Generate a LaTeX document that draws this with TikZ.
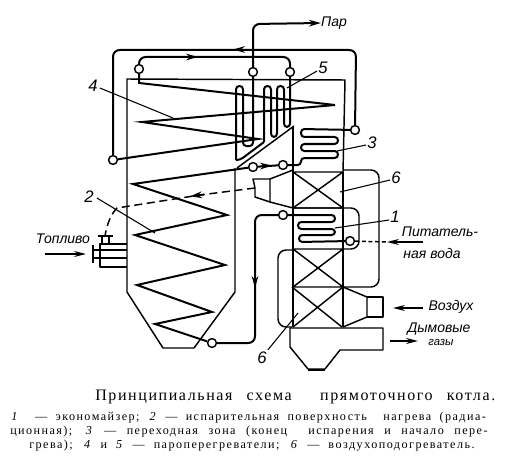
\documentclass[tikz,border=0pt]{standalone}
\usepackage{fontspec}
\setmainfont{Liberation Serif}
\newfontfamily\lblfont{Liberation Sans}[ItalicFont={Liberation Sans Italic}]
\newfontfamily\capwide{Liberation Serif}[LetterSpace=12]
\newfontfamily\titlewide{Liberation Serif}[LetterSpace=10]
\usetikzlibrary{arrows.meta}
\tikzset{
  wall/.style={line width=1.1pt,line join=round},
  thin wall/.style={line width=0.9pt,line join=round},
  tube/.style={line width=1.5pt,line join=round,rounded corners=2.5pt},
  sharp tube/.style={line width=1.5pt,line join=miter},
  pipe/.style={line width=1.5pt,rounded corners=5pt},
  duct/.style={line width=1.1pt,rounded corners=6pt},
  leader/.style={line width=0.8pt},
  tipped/.style={-{Stealth[length=9pt,width=4.5pt,inset=3pt]},line width=1pt},
  midtip/.style={-{Stealth[length=9pt,width=5pt,inset=3pt]},line width=1.3pt,shorten <=0pt},
  dashline/.style={line width=1.1pt,dash pattern=on 6pt off 3.5pt},
  feedline/.style={line width=1.1pt,dash pattern=on 3pt off 2pt},
  ring/.style={circle,draw,line width=1.1pt,fill=white,minimum size=6.6pt,inner sep=0pt},
  lab/.style={font=\lblfont\itshape\fontsize{10.5}{11}\selectfont,inner sep=0pt},
  num/.style={font=\lblfont\itshape\fontsize{12.5}{12.5}\selectfont,inner sep=0pt},
  small/.style={font=\lblfont\itshape\fontsize{8.5}{9}\selectfont,inner sep=0pt},
  captitle/.style={font=\titlewide\fontsize{12}{13}\selectfont,inner sep=0pt,anchor=west},
  capline/.style={font=\capwide\fontsize{9.1}{10}\selectfont,inner sep=0pt,anchor=west}
}
\begin{document}
\begin{tikzpicture}[x=0.75pt,y=-0.75pt]
\useasboundingbox (0,0) rectangle (506,456);

% --- furnace casing
\draw[wall] (235,168) -- (235,292) -- (194,348) -- (163,348) -- (127,292) -- (127,79) -- (345,80) -- (343,172);
\draw[wall] (293,127) -- (293,327);
\draw[wall] (343,172) -- (343,327);
% baffle
\draw[wall] (237,168) -- (294,126);
\draw[tube] (264,142) -- (240,160) -- (236,160);

% --- air heaters
\draw[wall] (293,172) -- (343,172) (293,172) -- (343,208) (343,172) -- (293,208) (293,208) -- (343,208);
\draw[wall] (293,249) -- (343,249) (293,249) -- (343,287) (343,249) -- (293,287) (292,287) -- (343,287);
\draw[wall] (292,287) -- (342,327) (343,287) -- (293,327);

% --- upper air box
\draw[wall] (293,170) -- (270,179) -- (270,202) -- (293,208);
\draw[wall] (270,179) -- (253,179) -- (255,188) -- (255,197) -- (270,202);
% --- lower air box
\draw[wall] (343,287) -- (367,297) -- (367,317) -- (343,327);
\draw[wall] (367,297) -- (383,297) -- (383,317) -- (367,317);

% --- air ducts
\draw[duct] (343,170) -- (379,170) -- (379,287) -- (343,287);
\draw[duct] (293,250) -- (278,250) -- (278,327) -- (292,327);
\draw[duct] (293,208) -- (359,208) -- (359,249) -- (343,249);

% --- flue and hopper
\draw[wall] (290,328) -- (383,328) -- (383,350) -- (340,350) -- (325,369) -- (308,369) -- (290,347) -- cycle;
\draw[line width=2pt] (308,370) -- (325,370);

% --- burner
\draw[thin wall] (127,244) -- (100,244) -- (100,267) -- (127,267);
\draw[thin wall] (127,250) -- (93,250) (93,258) -- (127,258);
\draw[line width=1.3pt] (93,245) -- (93,263);
\draw[thin wall] (102,244) -- (102,236) (109,236) -- (109,244) (98,236) -- (113,236);

% --- ring nodes
\node[ring] (a) at (139,69) {};
\node[ring] (b) at (253,72) {};
\node[ring] (c) at (290,72) {};
\node[ring] (d) at (113,160) {};
\node[ring] (e) at (355,130) {};
\node[ring] (f) at (253,167) {};
\node[ring] (g) at (283,165) {};
\node[ring] (h) at (283,215) {};
\node[ring] (i) at (350,241) {};
\node[ring] (j) at (212,343) {};

% --- labels
\node[lab] (par) at (334,23) {Пар};
\node[num] (n4) at (93,86) {4};
\node[num] (n5) at (323,68) {5};
\node[num] (n3) at (372,143) {3};
\node[num] (n6a) at (396,178) {6};
\node[num] (n2) at (89,197) {2};
\node[num] (n1) at (395,217) {1};
\node[num] (n6b) at (262,358) {6};
\node[lab] (top) at (63,239) {Топливо};
\node[lab] (pit1) at (440,232) {Питатель-};
\node[lab] (pit2) at (432,253) {ная вода};
\node[lab] (vozd) at (451,307) {Воздух};
\node[lab] (dym) at (439,329) {Дымовые};
\node[small] (gaz) at (441,343) {газы};

% --- steam out
\draw[pipe,-{Stealth[length=9pt,width=5pt,inset=3pt]}] (b) -- (253,24) -- (par.west);
% --- superheater loops
\draw[pipe] (d) -- (113,50) -- (356,50) -- (e);
\draw[midtip] (243,49.5) -- (233,49.5);
\draw[pipe] (a) -- (139,57) -- (290,57) -- (c);
\draw[midtip] (185,57) -- (198,57);
\draw[sharp tube] (a) -- (139,83) -- (335,105) -- (142,122) -- (258,139) -- (d);
% coil 5
\draw[tube] (b) -- (253,146) -- (243,146) -- (243,86) -- (236,86) -- (236,160);
\draw[tube] (c) -- (290,127) -- (284,127) -- (284,86) -- (277,86) -- (277,137) -- (271,137) -- (271,86) -- (264,86) -- (264,142);
% --- furnace coil
\draw[sharp tube] (f) -- (133,184) -- (227,215) -- (135,235) -- (225,265) -- (137,285) -- (212,312) -- (155,324) -- (j);
\draw[sharp tube] (f) -- (g);
\draw[midtip] (262,166) -- (272,165.5);
% --- transition coil 3
\draw[tube] (e) -- (301,129) -- (301,137) -- (338,137) -- (338,144) -- (301,144) -- (301,151) -- (338,151) -- (338,158) -- (301,158) -- (301,165) -- (g);
% --- economiser
\draw[tube] (h) -- (335,215) -- (335,222) -- (298,222) -- (298,229) -- (335,229) -- (335,235) -- (299,235) -- (299,242) -- (i);
% --- downcomer
\draw[pipe] (h) -- (255,215) -- (255,343) -- (j);
\draw[midtip] (255,272) -- (255,288);
% --- feed water
\coordinate (fw) at (423,242);
\coordinate (fw2) at (387,242);
\draw[feedline] (i) -- (fw2);
\draw[tipped] (fw) -- (fw2);
% --- dashed air
\coordinate (airL) at (105,236);
\draw[dashline] (255,188) -- (200,195) -- (117,208) .. controls (111,214) and (107,224) .. (airL);
\draw[midtip] (204,194.5) -- (190,196.3);
% --- arrows beside labels
\coordinate (t1) at (45,254); \coordinate (t2) at (86,254);
\draw[tipped] (t1) -- (t2);
\coordinate (v1) at (423,308); \coordinate (v2) at (393,308);
\draw[tipped] (v1) -- (v2);
\coordinate (g1) at (390,341); \coordinate (g2) at (418,341);
\draw[tipped] (g1) -- (g2);
% --- leaders
\coordinate (l4) at (173,118); \draw[leader] (n4.east) ++(2,2) -- (l4);
\coordinate (l5) at (287,88); \draw[leader] (n5.west) ++(-1,3) -- (l5);
\coordinate (l3) at (337,151); \draw[leader] (n3.west) ++(-1,2) -- (l3);
\coordinate (l6a) at (340,192); \draw[leader] (n6a.west) ++(-1,2) -- (l6a);
\coordinate (l2) at (155,233); \draw[leader] (n2.east) ++(3,1) -- (l2);
\coordinate (l1) at (335,228); \draw[leader] (n1.west) ++(-1,3) -- (l1);
\coordinate (l6b) at (298,313); \draw[leader] (n6b.north east) ++(1,-2) -- (l6b);

% --- caption
\node[captitle] (cap0) at (95,397) {\makebox[300pt][s]{Принципиальная схема\ \ прямоточного котла.}};
\node[capline] (cap1) at (11,418) {\makebox[356pt][s]{\textit{1}\ \ — экономайзер; \textit{2} — испарительная поверхность\ \ нагрева (радиа-}};
\node[capline] (cap2) at (10,432) {\makebox[358pt][s]{ционная); \textit{3} — переходная зона (конец\ \ испарения и начало пере-}};
\node[capline] (cap3) at (29,446) {\makebox[334pt][s]{грева); \textit{4} и \textit{5} — пароперегреватели; \textit{6} — воздухоподогреватель.}};
\end{tikzpicture}
\end{document}
